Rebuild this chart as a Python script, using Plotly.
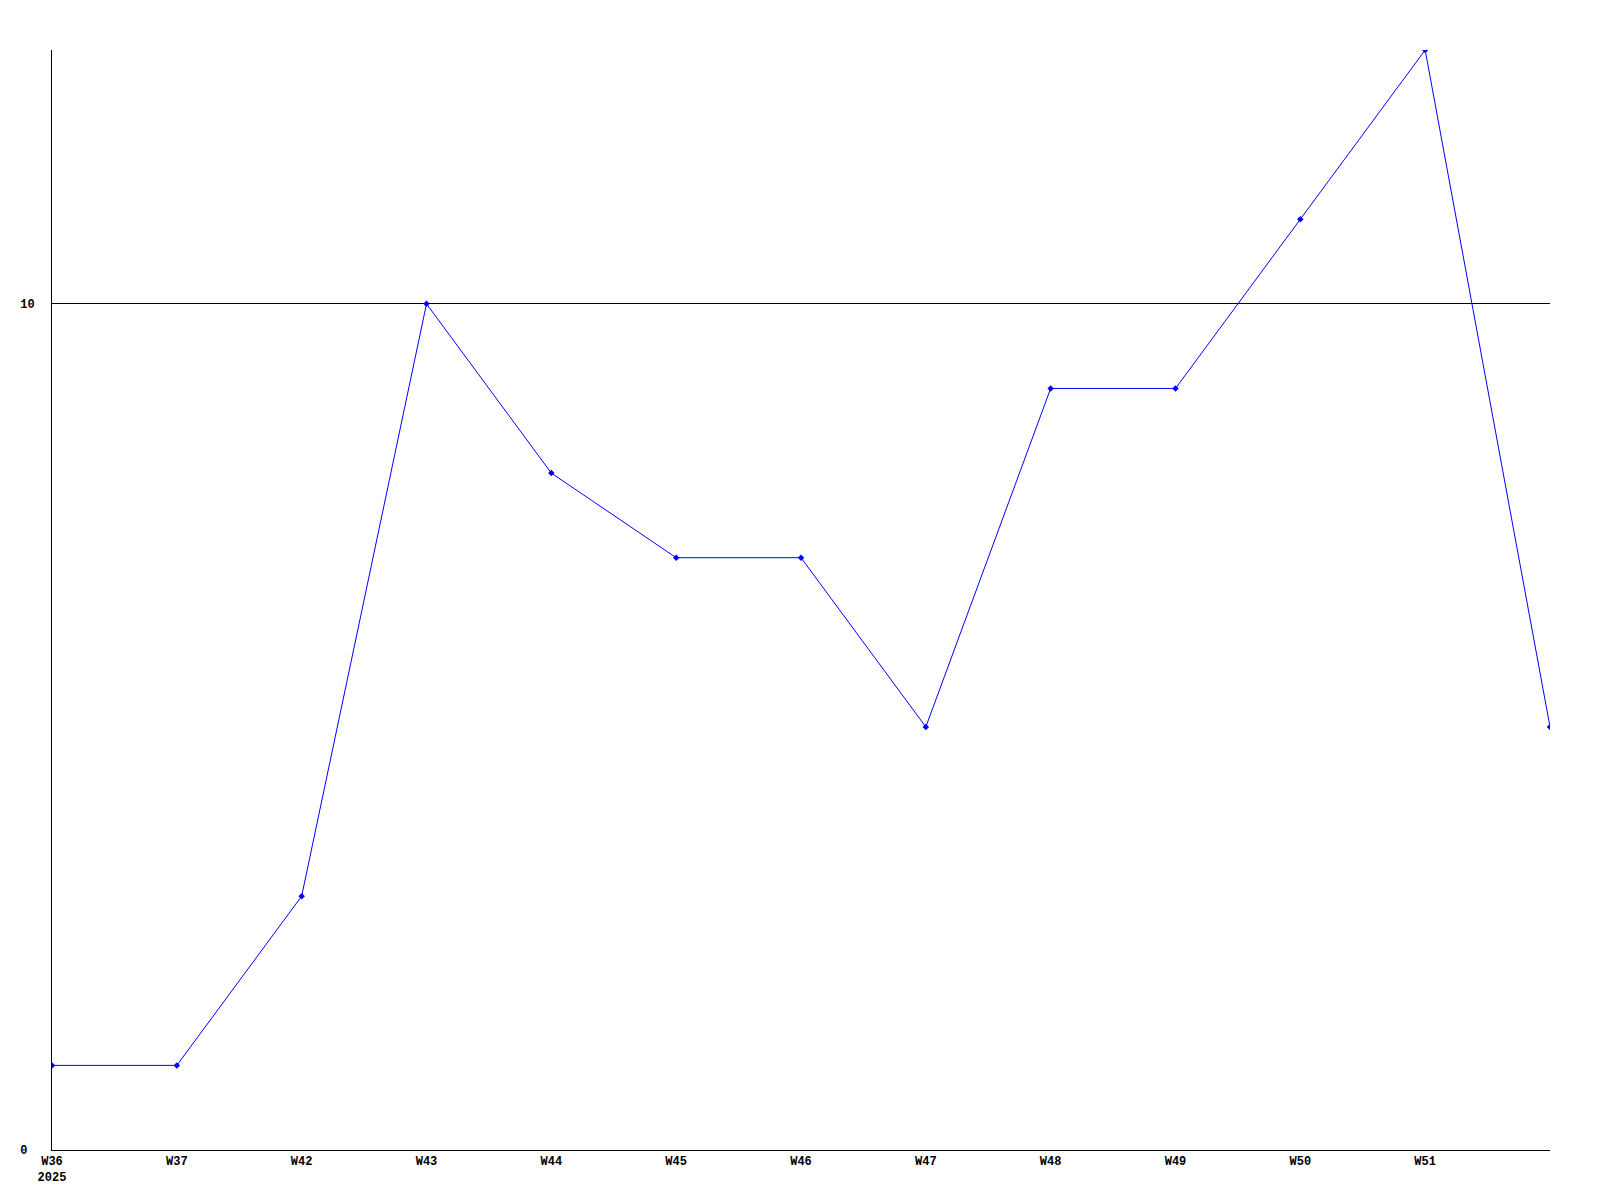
import plotly.graph_objects as go

weeks = ["W36", "W37", "W42", "W43", "W44", "W45", "W46", "W47", "W48", "W49", "W50", "W51", "W52"]
counts = [1, 1, 3, 10, 8, 7, 7, 5, 9, 9, 11, 13, 5]
tick_labels = ["W36<br>2025", "W37", "W42", "W43", "W44", "W45", "W46", "W47", "W48", "W49", "W50", "W51"]

x_pos = list(range(len(weeks)))

fig = go.Figure()
fig.add_trace(go.Scatter(
    x=x_pos, y=counts, mode="lines+markers",
    line=dict(color="#0000ff", width=1),
    marker=dict(symbol="diamond", size=5, color="#0000ff"),
    text=weeks, hoverinfo="text+y",
))

font = dict(family="Liberation Mono, DejaVu Sans Mono, monospace", size=12, color="black", weight="bold")

# page body has an 8px margin, so margins are shifted to keep the plot at 50px from the edges
fig.update_layout(
    width=1600, height=1200,
    plot_bgcolor="white", paper_bgcolor="white",
    showlegend=False,
    margin=dict(l=42, r=58, t=42, b=58, pad=0),
    font=font,
)
fig.update_xaxes(
    range=[0, 12], tickvals=x_pos[:-1], ticktext=tick_labels,
    showgrid=False, zeroline=False, showline=True, linecolor="black", linewidth=1,
    ticks="", tickfont=font,
)
# labels are left-aligned in the reference: pad the single digit to the same width
fig.update_yaxes(
    range=[0, 13], tickvals=[0, 10], ticktext=["0\u2007", "10"],
    showgrid=True, gridcolor="black", gridwidth=1,
    zeroline=False, showline=True, linecolor="black", linewidth=1,
    ticks="", tickfont=font, ticklabelstandoff=14,
)

fig.write_html("out.html")
